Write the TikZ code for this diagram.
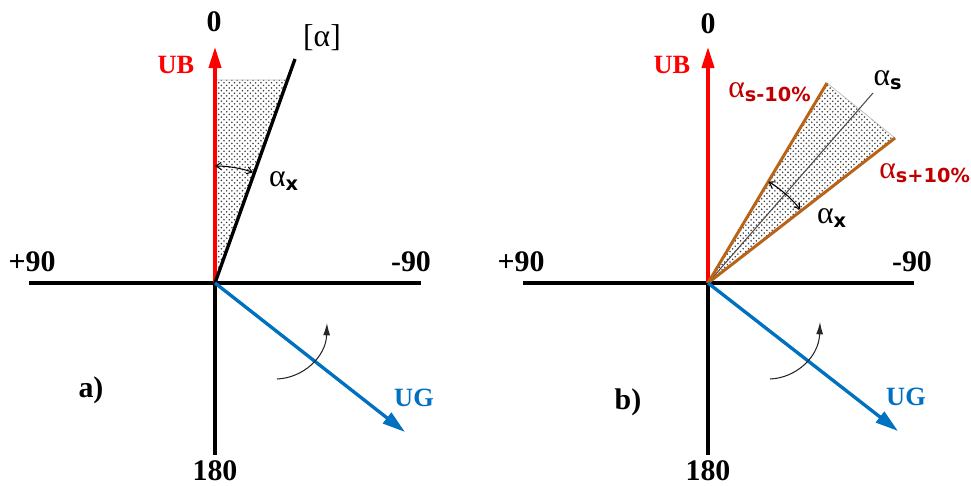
\documentclass[tikz,border=0pt]{standalone}
\usepackage{fontspec}
\setmainfont{Liberation Serif}
\setsansfont{DejaVu Sans}
\usetikzlibrary{arrows.meta, patterns}
\definecolor{ugblue}{RGB}{0,112,192}
\definecolor{limbrown}{RGB}{184,100,24}
\definecolor{limred}{RGB}{192,0,0}
\newcommand{\alim}[1]{α\textsubscript{\sffamily\bfseries\fontsize{11}{12}\selectfont #1}}

\begin{document}
\begin{tikzpicture}[
    x=0.02cm, y=-0.02cm,
    axis/.style={line width=1.9pt},
    ubarrow/.style={line width=1.9pt, red, -{Triangle[length=12pt, width=7pt]}},
    ugarrow/.style={line width=1.9pt, ugblue, -{Triangle[length=13pt, width=7.5pt]}},
    limit/.style={line width=1.7pt, limbrown},
    zone/.style={pattern=crosshatch dots, pattern color=black!75, draw=black!25, line width=0.4pt},
    turn/.style={line width=0.6pt, black!85, -{Latex[length=7pt, width=4pt]}},
    anglearc/.style={line width=0.6pt, {Straight Barb[length=3pt, width=4pt]}-{Straight Barb[length=3pt, width=4pt]}},
    lbl/.style={font=\bfseries\fontsize{17}{20}\selectfont},
    vec/.style={font=\bfseries\fontsize{15}{18}\selectfont},
    ang/.style={font=\fontsize{18}{20}\selectfont}
]
\useasboundingbox (0,0) rectangle (971,486);

% a)
\coordinate (Oa) at (215,283);
\coordinate (UBa) at (215,47);
\coordinate (Sa) at (215,455);
\coordinate (Wa) at (29,283);
\coordinate (Ea) at (421,283);
\coordinate (Ga) at (405,432);
\coordinate (La) at (295,59);
\fill[zone] (Oa) -- (215,80) -- (287,80) -- cycle;
\draw[axis] (Wa) -- (Ea);
\draw[axis] (Oa) -- (Sa);
\draw[ubarrow] (Oa) -- (UBa);
\draw[line width=1.9pt] (Oa) -- (La);
\draw[ugarrow] (Oa) -- (Ga);
\draw[anglearc] (Oa) ++(-90:117) arc[start angle=-90, end angle=-71, radius=117];
\draw[turn] (277,379) .. controls (303,378) and (326,357) .. (327,323);
\node[lbl] (za) at (214,22) {0};
\node[lbl] (ba) at (215,471) {180};
\node[lbl] (wa) at (32,262) {+90};
\node[lbl] (ea) at (411,262) {-90};
\node[vec, red] (uba) at (176,65) {UB};
\node[vec, ugblue] (uga) at (414,398) {UG};
\node[ang] (la) at (322,38) {[α]};
\node[ang] (xa) at (284,181) {\alim{x}};
\node[lbl] (pa) at (91,390) {a)};

% b)
\coordinate (Ob) at (708,283);
\coordinate (UBb) at (708,47);
\coordinate (Sb) at (708,455);
\coordinate (Wb) at (523,283);
\coordinate (Eb) at (914,283);
\coordinate (Gb) at (898,431);
\coordinate (Mb) at (827,83);
\coordinate (Pb) at (895,138);
\coordinate (Cb) at (873,93);
\fill[zone] (Ob) -- (Mb) -- (Pb) -- cycle;
\draw[axis] (Wb) -- (Eb);
\draw[axis] (Ob) -- (Sb);
\draw[ubarrow] (Ob) -- (UBb);
\draw[line width=0.6pt, black!70] (Ob) -- (Cb);
\draw[limit] (Ob) -- (Mb);
\draw[limit] (Ob) -- (Pb);
\draw[ugarrow] (Ob) -- (Gb);
\draw[anglearc] (Ob) ++(-59.2:118) arc[start angle=-59.2, end angle=-38.5, radius=118];
\draw[turn] (770,379) .. controls (796,378) and (819,357) .. (820,322);
\node[lbl] (zb) at (708,24) {0};
\node[lbl] (bb) at (708,471) {180};
\node[lbl] (wb) at (521,262) {+90};
\node[lbl] (eb) at (912,262) {-90};
\node[vec, red] (ubb) at (672,65) {UB};
\node[vec, ugblue] (ugb) at (906,397) {UG};
\node[ang, limred] (mb) at (770,92) {\alim{s-10\%}};
\node[ang] (cb) at (888,80) {\alim{s}};
\node[ang, limred, anchor=west, inner sep=0pt] (pb) at (879,173) {\alim{s+10\%}};
\node[ang] (xb) at (832,218) {\alim{x}};
\node[lbl] (pbl) at (628,402) {b)};
\end{tikzpicture}
\end{document}
